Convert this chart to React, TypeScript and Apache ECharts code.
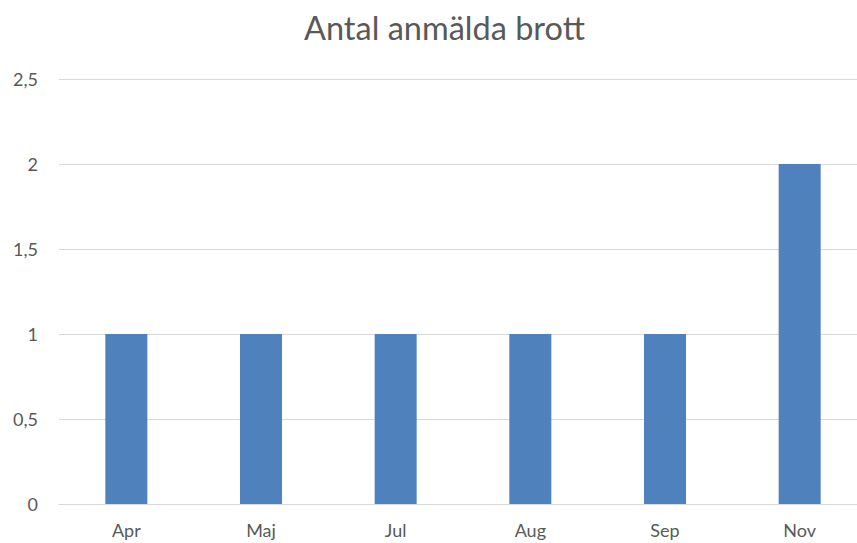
import React, { useEffect, useRef } from "react";
import * as echarts from "echarts";

const categories = ["Apr", "Maj", "Jul", "Aug", "Sep", "Nov"];
const values = [1, 1, 1, 1, 1, 2];
const yTicks = [0, 0.5, 1, 1.5, 2, 2.5];

export default function App() {
  const ref = useRef<HTMLDivElement>(null);
  useEffect(() => {
    document.body.style.margin = "0";
    const chart = echarts.init(ref.current!, null, { renderer: "svg" });
    chart.setOption({
      animation: false,
      backgroundColor: "#ffffff",
      title: {
        text: "Antal anmälda brott",
        left: 299,
        top: 6,
        textStyle: { fontFamily: "Lato", fontSize: 32.5, fontWeight: "normal", color: "#595959" },
      },
      grid: { left: 59, top: 79, right: -10, height: 425, outerBoundsMode: "none", containLabel: false },
      xAxis: {
        type: "category",
        data: categories,
        axisLine: { lineStyle: { color: "#d9d9d9", width: 1 } },
        axisTick: { show: false },
        axisLabel: { fontFamily: "Lato", fontSize: 18, color: "#595959", margin: 17 },
      },
      yAxis: {
        type: "value",
        min: yTicks[0],
        max: yTicks[yTicks.length - 1],
        interval: 0.5,
        axisLine: { show: false },
        axisTick: { show: false },
        splitLine: { lineStyle: { color: "#d9d9d9", width: 1 } },
        axisLabel: {
          fontFamily: "Lato",
          fontSize: 18,
          color: "#595959",
          margin: 21,
          formatter: (v: number) => String(v).replace(".", ","),
        },
      },
      series: [
        {
          type: "bar",
          data: values,
          barWidth: 42,
          itemStyle: { color: "#4f81bd" },
        },
      ],
    });
    return () => chart.dispose();
  }, []);
  return <div ref={ref} style={{ width: 857, height: 543 }} />;
}
